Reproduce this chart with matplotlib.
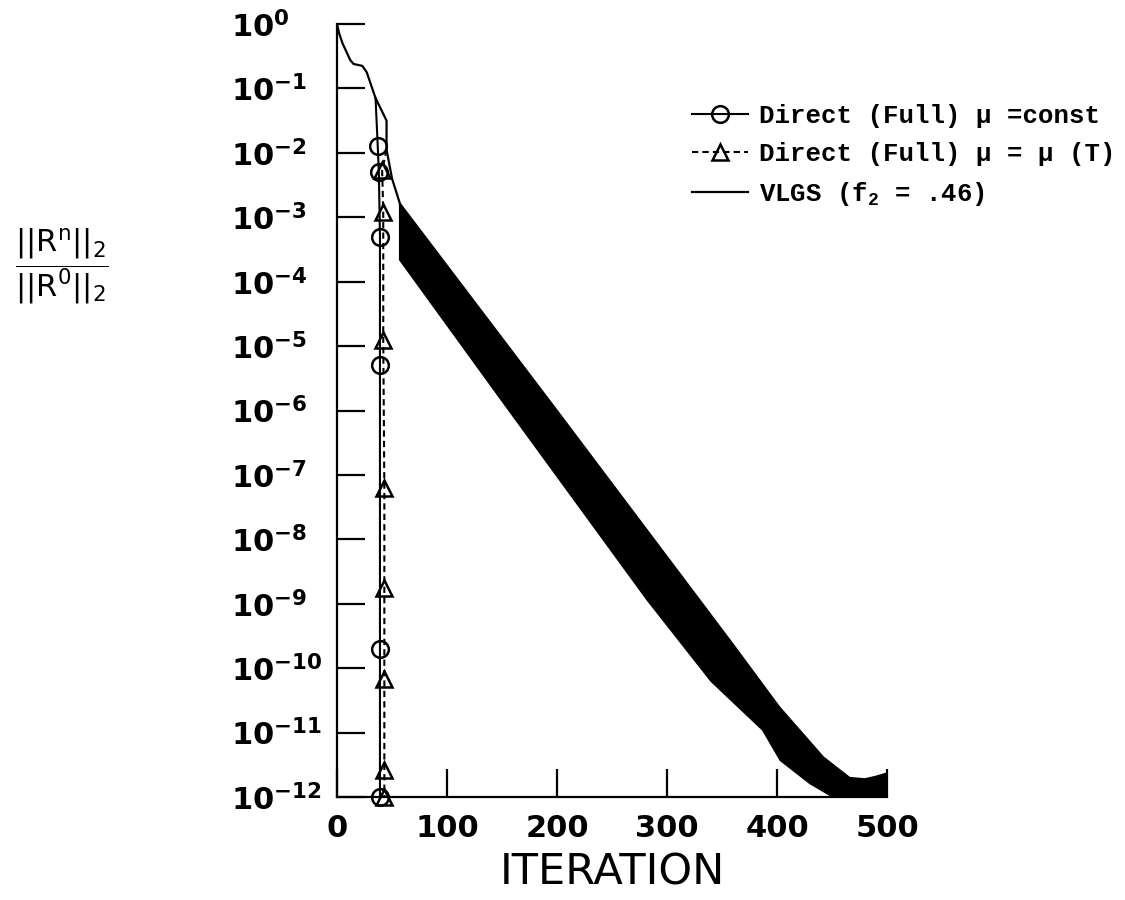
import numpy as np
import matplotlib
matplotlib.use('Agg')
import matplotlib.pyplot as plt
from matplotlib.ticker import NullLocator

plt.rcParams['font.family'] = ['DejaVu Sans']
plt.rcParams['mathtext.default'] = 'regular'

# VLGS history before the oscillating stage (iteration, log10 of residual ratio)
vlgs_it = [0, 2, 5, 12, 15, 23, 27, 35, 45, 45, 50, 57]
vlgs_log = [0.0, -0.15, -0.3, -0.56, -0.62, -0.65, -0.75, -1.15, -1.5, -1.95, -2.4, -2.78]

# VLGS oscillation band: upper and lower bound of the residual
band_up_it = [57, 200, 360, 402, 442, 466, 480, 490, 500]
band_up_log = [-2.78, -6.0, -9.63, -10.6, -11.38, -11.7, -11.72, -11.68, -11.63]
band_lo_it = [57, 150, 282, 340, 387, 403, 430, 451, 500]
band_lo_log = [-3.66, -5.85, -8.94, -10.2, -10.96, -11.43, -11.79, -12.0, -12.0]

# direct solver, constant viscosity (first point is the restart from VLGS)
const_it = [35, 37, 38, 39, 39, 39, 39]
const_log = [-1.15, -1.9, -2.3, -3.3, -5.3, -9.7, -12.0]

# direct solver, temperature dependent viscosity
temp_it = [45, 41, 42, 42, 43, 43, 43, 43, 43]
temp_log = [-1.95, -2.27, -2.92, -4.9, -7.2, -8.76, -10.16, -11.58, -12.0]

yticks = list(range(0, -13, -1))
xticks = [0, 100, 200, 300, 400, 500]


def pw(v):
    return 10.0 ** np.asarray(v, dtype=float)


fig = plt.figure(figsize=(11.25, 9), dpi=100)
ax = fig.add_axes([0.2996, 0.1144, 0.4889, 0.8589])
ax.set_yscale('log')

# VLGS: single curve, then the band it oscillates in
ax.plot(vlgs_it, pw(vlgs_log), color='black', lw=1.6, solid_joinstyle='miter')
band_x = list(band_up_it) + list(band_lo_it[::-1])
band_y = list(band_up_log) + list(band_lo_log[::-1])
ax.fill(band_x, pw(band_y), color='black', lw=1.2, edgecolor='black')
ax.plot([], [], color='black', lw=1.6, label='VLGS (f$_2$ = .46)')

ax.plot(const_it, pw(const_log), color='black', lw=1.5, marker='o', ms=12,
        mfc='none', mew=1.8, markevery=slice(1, None), clip_on=False,
        label='Direct (Full) μ =const')
ax.plot(temp_it, pw(temp_log), color='black', lw=1.5, ls=(0, (3, 2)),
        marker='^', ms=12, mfc='none', mew=1.8, markevery=slice(1, None),
        clip_on=False, label='Direct (Full) μ = μ (T)')

ax.set_xlim(0, 500)
ax.set_ylim(1e-12, 1.0)
ax.spines['top'].set_visible(False)
ax.spines['right'].set_visible(False)
for s in ('left', 'bottom'):
    ax.spines[s].set_linewidth(1.6)

ax.set_xticks(xticks)
ax.set_xticklabels([str(v) for v in xticks], fontweight='bold')
ax.set_yticks(pw(yticks))
ax.set_yticklabels(['$10^{%d}$' % k for k in yticks], ha='left',
                   fontweight='bold')
ax.yaxis.set_minor_locator(NullLocator())
ax.tick_params(axis='both', direction='in', length=20, width=1.6,
               labelsize=22)
ax.tick_params(axis='y', pad=76)
ax.tick_params(axis='x', pad=12)

ax.set_xlabel('ITERATION', fontsize=31, labelpad=6)

fig.text(0.013, 0.704, r'$\dfrac{||R^{n}||_{2}}{||R^{0}||_{2}}$',
         fontsize=22, ha='left', va='center')

# legend order: const, temp, VLGS
h, l = ax.get_legend_handles_labels()
order = [1, 2, 0]
ax.legend([h[i] for i in order], [l[i] for i in order],
          loc='upper left', bbox_to_anchor=(0.615, 0.885),
          bbox_transform=fig.transFigure, frameon=False, numpoints=1,
          prop={'family': 'Liberation Mono', 'size': 18.5, 'weight': 'bold'},
          handlelength=2.2, handletextpad=0.4, labelspacing=0.55,
          borderpad=0, borderaxespad=0)

fig.savefig('out.png', dpi=100)
